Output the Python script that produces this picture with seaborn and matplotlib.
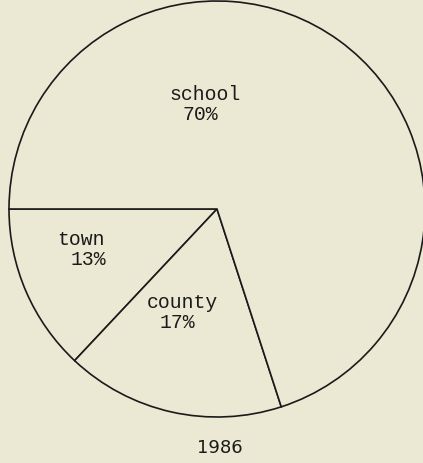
import seaborn as sns
import matplotlib.pyplot as plt

# data
categories = ['town', 'county', 'school']
shares = [13, 17, 70]
year = '1986'

BG = '#ebe8d3'

sns.set_theme(style='white')
plt.rcParams['font.family'] = ['Liberation Mono', 'DejaVu Sans Mono']

fig = plt.figure(figsize=(4.23, 4.64), dpi=100, facecolor=BG)
# circle centre ~ (217, 210) px, radius ~ 208 px
ax = fig.add_axes([9 / 423, 46 / 464, 416 / 423, 416 / 464])
ax.set_facecolor(BG)

wedges, _ = ax.pie(shares, startangle=180, counterclock=True, radius=1.0,
                   colors=[BG] * len(shares),
                   wedgeprops=dict(edgecolor='#1a1a1a', linewidth=1.2))

# label positions (data coords)
label_pos = {'town': [(-0.654, -0.144), (-0.62, -0.24)],
             'county': [(-0.168, -0.447), (-0.192, -0.543)],
             'school': [(-0.058, 0.553), (-0.082, 0.457)]}
for cat, val in zip(categories, shares):
    (x1, y1), (x2, y2) = label_pos[cat]
    ax.text(x1, y1, cat, ha='center', va='center', fontsize=14.2, color='#1a1a1a')
    ax.text(x2, y2, f'{val}%', ha='center', va='center', fontsize=14.2, color='#1a1a1a')

ax.set_xlim(-1, 1)
ax.set_ylim(-1, 1)
ax.set_aspect('equal')
ax.axis('off')

fig.text(220 / 423, 1 - 448 / 464, year, ha='center', va='center',
         fontsize=13, family='DejaVu Sans', color='#1a1a1a')

fig.savefig('out.png', dpi=100, facecolor=BG)
